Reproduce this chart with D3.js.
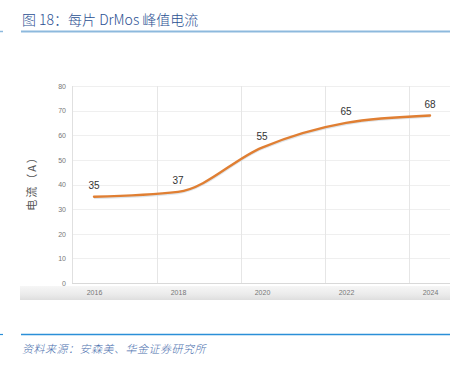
<!DOCTYPE html>
<html>
<head>
<meta charset="utf-8">
<script src="https://cdn.jsdelivr.net/npm/d3@7"></script>
<style>
  body { margin: 0; background: #fff; }
  svg { display: block; }
</style>
</head>
<body>
<div id="chart"></div>
<script>
// data
var years = [2016, 2018, 2020, 2022, 2024];
var current = [35, 37, 55, 65, 68];
var yTicks = [0, 10, 20, 30, 40, 50, 60, 70, 80];
var vGrid = [2017.5, 2019.5, 2021.5, 2023.5];

var title = "图 18：每片 DrMos 峰值电流";
var source = "资料来源：安森美、华金证券研究所";
var yTitle = "电流（A）";

var w = 463,
    h = 369;

var svg = d3.select("#chart")
    .append("svg")
    .attr("width", w)
    .attr("height", h);

var x = d3.scaleLinear().domain([2016, 2024]).range([94, 430]);
var y = d3.scaleLinear().domain([0, 80]).range([283, 86]);

// header
svg.append("text")
    .attr("x", 22)
    .attr("y", 25)
    .attr("font-family", "Noto Sans CJK SC, Liberation Sans, sans-serif")
    .attr("font-size", "14px")
    .attr("font-weight", 300)
    .attr("fill", "#2a4f92")
    .text(title);

svg.append("line")
    .attr("x1", 21).attr("x2", 450)
    .attr("y1", 31.5).attr("y2", 31.5)
    .style("stroke", "#8db9dd")
    .style("stroke-width", 2);
svg.append("line")
    .attr("x1", 0).attr("x2", 3)
    .attr("y1", 31.5).attr("y2", 31.5)
    .style("stroke", "#8db9dd")
    .style("stroke-width", 1.5);

// grey band under the plot
var defs = svg.append("defs");
var grad = defs.append("linearGradient")
    .attr("id", "band")
    .attr("x1", 0).attr("x2", 0).attr("y1", 0).attr("y2", 1);
grad.append("stop").attr("offset", "0%").attr("stop-color", "#f6f6f6");
grad.append("stop").attr("offset", "60%").attr("stop-color", "#ebebeb");
grad.append("stop").attr("offset", "100%").attr("stop-color", "#dedede");

svg.append("rect")
    .attr("x", 20)
    .attr("y", 286)
    .attr("width", 430)
    .attr("height", 14)
    .style("fill", "url(#band)");

// horizontal grid
svg.append("g")
    .selectAll("line")
    .data(yTicks)
    .enter()
    .append("line")
    .attr("x1", 72).attr("x2", 450)
    .attr("y1", function(d) { return Math.round(y(d)) + 0.5; })
    .attr("y2", function(d) { return Math.round(y(d)) + 0.5; })
    .style("stroke", function(d) { return d === 0 ? "#d9d9d9" : "#efefef"; })
    .style("stroke-width", 1);

// vertical grid
svg.append("g")
    .selectAll("line")
    .data(vGrid)
    .enter()
    .append("line")
    .attr("x1", function(d) { return Math.round(x(d)) + 0.5; })
    .attr("x2", function(d) { return Math.round(x(d)) + 0.5; })
    .attr("y1", y(80)).attr("y2", y(0))
    .style("stroke", "#e6e6e6")
    .style("stroke-width", 1);

svg.append("line")
    .attr("x1", 72.5).attr("x2", 72.5)
    .attr("y1", y(80)).attr("y2", y(0))
    .style("stroke", "#e0e0e0");

// axes
var yAxis = d3.axisLeft(y).tickValues(yTicks).tickSize(0).tickPadding(6);
var gy = svg.append("g")
    .attr("transform", "translate(72,0)")
    .call(yAxis);
gy.select(".domain").remove();
gy.selectAll("text")
    .attr("font-family", "Liberation Sans, Arial, sans-serif")
    .attr("font-size", "7px")
    .attr("fill", "#777");

var xAxis = d3.axisBottom(x).tickValues(years).tickFormat(d3.format("d")).tickSize(0).tickPadding(0);
var gx = svg.append("g")
    .attr("transform", "translate(0,290)")
    .call(xAxis);
gx.select(".domain").remove();
gx.selectAll("text")
    .attr("font-family", "Liberation Sans, Arial, sans-serif")
    .attr("font-size", "7px")
    .attr("fill", "#777");

svg.append("text")
    .attr("transform", "translate(36," + (y(40) - 4) + ") rotate(-90)")
    .attr("text-anchor", "middle")
    .attr("font-family", "Noto Sans CJK SC, sans-serif")
    .attr("font-size", "11px")
    .attr("letter-spacing", "2px")
    .attr("fill", "#555")
    .text(yTitle);

// line
var pts = years.map(function(d, i) { return { year: d, num: current[i] }; });

var chartLine = d3.line()
    .x(function(d) { return x(d.year); })
    .y(function(d) { return y(d.num); })
    .curve(d3.curveMonotoneX);

svg.append("path")
    .datum(pts)
    .attr("d", chartLine)
    .attr("transform", "translate(0,1)")
    .style("fill", "none")
    .style("stroke", "#c9d3dc")
    .style("stroke-width", 2.5)
    .style("opacity", 0.6);

svg.append("path")
    .datum(pts)
    .attr("d", chartLine)
    .style("fill", "none")
    .style("stroke", "#e07f33")
    .style("stroke-width", 2.4)
    .style("stroke-linecap", "round");

svg.append("g")
    .selectAll("text")
    .data(pts)
    .enter()
    .append("text")
    .attr("x", function(d) { return x(d.year); })
    .attr("y", function(d) { return y(d.num) - 8; })
    .attr("text-anchor", "middle")
    .attr("font-family", "Liberation Sans, Arial, sans-serif")
    .attr("font-size", "10px")
    .attr("fill", "#333")
    .text(function(d) { return d.num; });

// footer
svg.append("line")
    .attr("x1", 21).attr("x2", 450)
    .attr("y1", 334.5).attr("y2", 334.5)
    .style("stroke", "#2b8fd8")
    .style("stroke-width", 1.5);
svg.append("line")
    .attr("x1", 0).attr("x2", 3)
    .attr("y1", 334.5).attr("y2", 334.5)
    .style("stroke", "#2b8fd8")
    .style("stroke-width", 1.2);

svg.append("text")
    .attr("x", 22)
    .attr("y", 353)
    .attr("font-family", "Noto Sans CJK SC, sans-serif")
    .attr("font-size", "11px")
    .attr("font-style", "italic")
    .attr("font-weight", 300)
    .attr("letter-spacing", "0.5px")
    .attr("fill", "#4a6fae")
    .text(source);
</script>
</body>
</html>
